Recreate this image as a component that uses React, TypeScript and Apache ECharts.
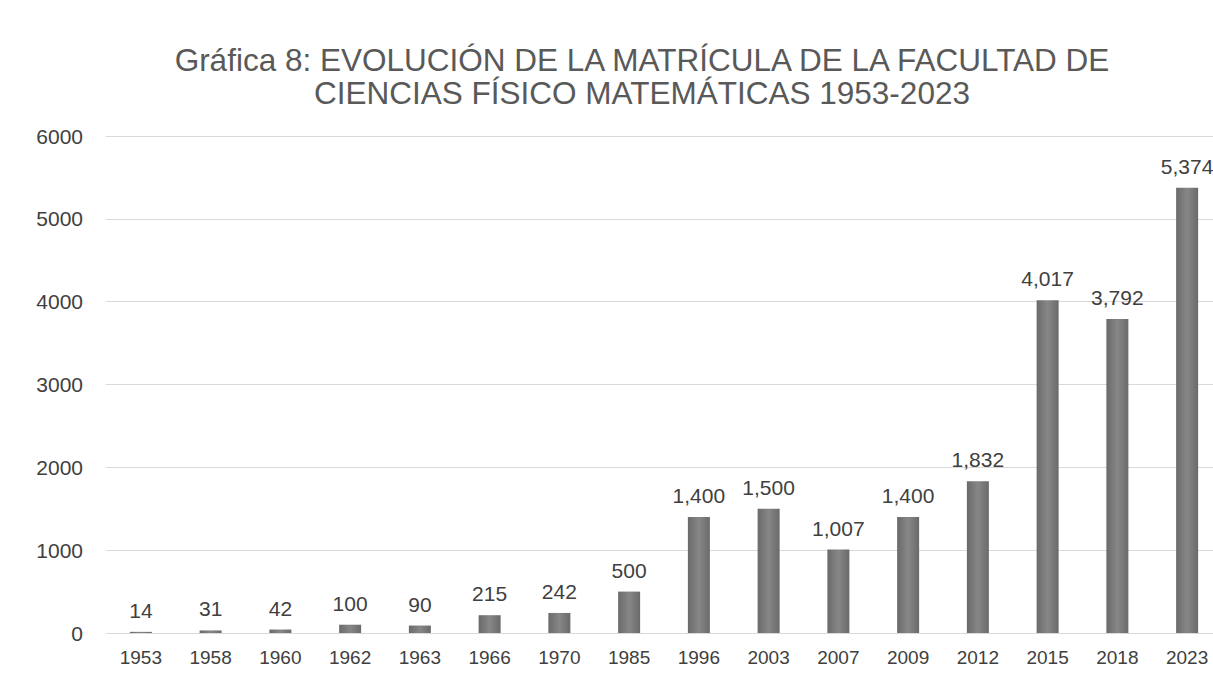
import React, { useEffect, useRef } from "react";
import * as echarts from "echarts";

const categories = ["1953", "1958", "1960", "1962", "1963", "1966", "1970", "1985", "1996", "2003", "2007", "2009", "2012", "2015", "2018", "2023"];
const enrollment = [14, 31, 42, 100, 90, 215, 242, 500, 1400, 1500, 1007, 1400, 1832, 4017, 3792, 5374];
const yTicks = [0, 1000, 2000, 3000, 4000, 5000, 6000];
const titleLines = [
  "Gráfica 8: EVOLUCIÓN DE LA MATRÍCULA DE LA FACULTAD DE",
  "CIENCIAS FÍSICO MATEMÁTICAS 1953-2023",
];

export default function App() {
  const ref = useRef<HTMLDivElement>(null);
  useEffect(() => {
    if (!ref.current) return;
    const chart = echarts.init(ref.current, null, { renderer: "svg" });
    chart.setOption({
      animation: false,
      backgroundColor: "#ffffff",
      title: {
        text: titleLines.join("\n"),
        left: 637,
        textAlign: "center",
        top: 38,
        textStyle: {
          fontFamily: "'Liberation Sans', Arial, sans-serif",
          fontSize: 31.5,
          fontWeight: "normal",
          color: "#595959",
          lineHeight: 33,
        },
      },
      grid: { left: 106, right: 0, top: 136, bottom: 53 },
      xAxis: {
        type: "category",
        data: categories,
        axisLine: { show: false },
        axisTick: { show: false },
        axisLabel: {
          color: "#404040",
          fontSize: 19,
          margin: 15,
          fontFamily: "'Liberation Sans', Arial, sans-serif",
        },
      },
      yAxis: {
        type: "value",
        min: yTicks[0],
        max: yTicks[yTicks.length - 1],
        interval: 1000,
        axisLine: { show: false },
        axisTick: { show: false },
        axisLabel: {
          color: "#404040",
          fontSize: 21,
          margin: 23,
          fontFamily: "'Liberation Sans', Arial, sans-serif",
          formatter: (v: number) => String(v),
        },
        splitLine: { lineStyle: { color: "#d9d9d9", width: 1 } },
      },
      series: [
        {
          type: "bar",
          data: enrollment,
          barWidth: 22,
          itemStyle: {
            color: new echarts.graphic.LinearGradient(0, 0, 1, 0, [
              { offset: 0, color: "#6a6a6a" },
              { offset: 0.5, color: "#878787" },
              { offset: 1, color: "#6a6a6a" },
            ]),
          },
          label: {
            show: true,
            position: "top",
            distance: 11,
            color: "#404040",
            fontSize: 21,
            fontFamily: "'Liberation Sans', Arial, sans-serif",
            formatter: (p: any) => Number(p.value).toLocaleString("en-US"),
          },
        },
      ],
    });
    return () => chart.dispose();
  }, []);
  return (
    <div
      ref={ref}
      style={{ position: "fixed", left: 0, top: 0, width: 1222, height: 686 }}
    />
  );
}
